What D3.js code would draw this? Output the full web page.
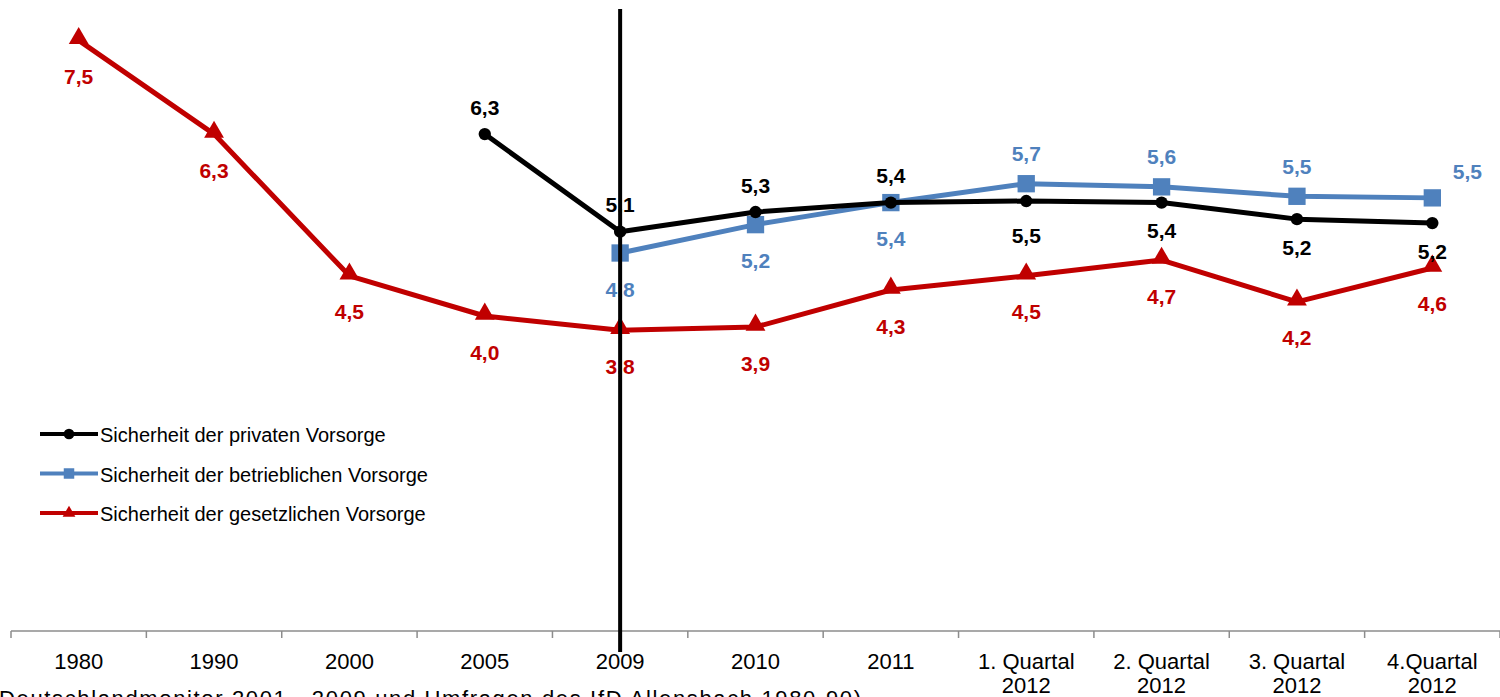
<!DOCTYPE html>
<html>
<head>
<meta charset="utf-8">
<script src="https://cdn.jsdelivr.net/npm/d3@7"></script>
<style>
  body { margin: 0; background: #fff; overflow: hidden; }
  svg { display: block; font-family: "Liberation Sans", Arial, sans-serif; }
</style>
</head>
<body>
<div id="chart"></div>
<script>
const categories = ["1980", "1990", "2000", "2005", "2009", "2010", "2011",
    "1. Quartal\n2012", "2. Quartal\n2012", "3. Quartal\n2012", "4.Quartal\n2012"];

const privat = [null, null, null, 6.31, 5.07, 5.32, 5.44, 5.46, 5.44, 5.23, 5.18];
const betrieb = [null, null, null, null, 4.80, 5.16, 5.44, 5.68, 5.64, 5.52, 5.50];
const gesetz = [7.50, 6.31, 4.51, 4.00, 3.82, 3.86, 4.33, 4.51, 4.71, 4.18, 4.61];

const seriesNames = ["Sicherheit der privaten Vorsorge",
    "Sicherheit der betrieblichen Vorsorge",
    "Sicherheit der gesetzlichen Vorsorge"];

const markerCategory = "2009";
const sourceText = "Deutschlandmonitor 2001 - 2009 und Umfragen des IfD Allensbach 1980-90)";

const width = 1500, height = 697;
const axisY = 631;

const svg = d3.select("#chart").append("svg")
    .attr("width", width)
    .attr("height", height);

const x = d3.scaleBand()
    .domain(categories)
    .range([11, 1500]);

const y = d3.scaleLinear()
    .domain([0, 8])
    .range([axisY, 1]);

const cx = c => x(c) + x.bandwidth() / 2;
const fmt = v => d3.format(".1f")(v).replace(".", ",");

// axis line + ticks between categories
svg.append("line")
    .attr("x1", x.range()[0]).attr("x2", x.range()[1])
    .attr("y1", axisY).attr("y2", axisY)
    .style("stroke", "#8c8c8c").style("stroke-width", 1.5);

const bounds = categories.map(c => x(c)).concat([x.range()[1]]);
svg.append("g").selectAll("line")
    .data(bounds)
    .enter().append("line")
    .attr("x1", d => d).attr("x2", d => d)
    .attr("y1", axisY).attr("y2", axisY + 7)
    .style("stroke", "#8c8c8c").style("stroke-width", 1.5);

// tick labels
const tl = svg.append("g").selectAll("text")
    .data(categories)
    .enter().append("text")
    .attr("text-anchor", "middle")
    .attr("x", d => cx(d))
    .attr("y", 669)
    .style("font-size", "22px")
    .style("fill", "#000");
tl.each(function (d) {
    const lines = d.split("\n");
    const t = d3.select(this);
    lines.forEach((l, i) => {
        t.append("tspan").attr("x", cx(d)).attr("dy", i === 0 ? 0 : 24).text(l);
    });
});

// source text (cut off at the bottom)
svg.append("text")
    .attr("x", -1)
    .attr("y", 706)
    .attr("textLength", 862)
    .attr("lengthAdjust", "spacing")
    .style("font-size", "22px")
    .style("fill", "#000")
    .text(sourceText);

const series = [
    {name: seriesNames[0], values: privat, color: "#000000", shape: "circle",
        labelPos: i => i <= 6 ? [0, -27] : (i === 7 ? [0, 34] : [0, 28])},
    {name: seriesNames[1], values: betrieb, color: "#4F81BD", shape: "square",
        labelPos: i => i <= 6 ? [0, 36] : (i === 10 ? [35, -26] : [0, -30])},
    {name: seriesNames[2], values: gesetz, color: "#C00000", shape: "triangle",
        labelPos: i => [0, 36]}
];

function symbolFor(shape, big) {
    if (shape === "circle") return d3.symbol().type(d3.symbolCircle).size(big ? 120 : 90)();
    if (shape === "square") return d3.symbol().type(d3.symbolSquare).size(big ? 300 : 110)();
    return d3.symbol().type(d3.symbolTriangle).size(big ? 170 : 70)();
}

const drawOrder = [series[2], series[1], series[0]];

drawOrder.forEach(s => {
    const pts = categories.map((c, i) => ({c: c, v: s.values[i], i: i}))
        .filter(d => d.v !== null);

    const line = d3.line()
        .x(d => cx(d.c))
        .y(d => y(d.v));

    svg.append("path")
        .datum(pts)
        .attr("d", line)
        .style("fill", "none")
        .style("stroke", s.color)
        .style("stroke-width", 5)
        .style("stroke-linejoin", "round");

    svg.append("g").selectAll("path")
        .data(pts)
        .enter().append("path")
        .attr("d", symbolFor(s.shape, true))
        .attr("transform", d => `translate(${cx(d.c)},${y(d.v) + (s.shape === "triangle" ? -2 : 0)})`)
        .style("fill", s.color);
});

// value labels
series.forEach(s => {
    const pts = categories.map((c, i) => ({c: c, v: s.values[i], i: i}))
        .filter(d => d.v !== null);
    svg.append("g").selectAll("text")
        .data(pts)
        .enter().append("text")
        .attr("text-anchor", "middle")
        .attr("dominant-baseline", "central")
        .attr("x", d => cx(d.c) + s.labelPos(d.i)[0])
        .attr("y", d => y(d.v) + s.labelPos(d.i)[1])
        .style("font-size", "21px")
        .style("font-weight", "bold")
        .style("fill", s.color)
        .text(d => fmt(d.v));
});

// vertical marker line at 2009
svg.append("line")
    .attr("x1", cx(markerCategory)).attr("x2", cx(markerCategory))
    .attr("y1", 9).attr("y2", 652)
    .style("stroke", "#000")
    .style("stroke-width", 4);

// legend
const legend = svg.append("g").attr("transform", "translate(40,434)");
const li = legend.selectAll("g")
    .data(series)
    .enter().append("g")
    .attr("transform", (d, i) => `translate(0, ${i * 39.5})`);
li.append("line")
    .attr("x1", 0).attr("x2", 58).attr("y1", 0).attr("y2", 0)
    .style("stroke", d => d.color).style("stroke-width", 4);
li.append("path")
    .attr("d", d => symbolFor(d.shape, false))
    .attr("transform", "translate(29,0)")
    .style("fill", d => d.color);
li.append("text")
    .attr("x", 60)
    .attr("y", 1)
    .attr("dominant-baseline", "central")
    .style("font-size", "20px")
    .style("fill", "#000")
    .text(d => d.name);
</script>
</body>
</html>
